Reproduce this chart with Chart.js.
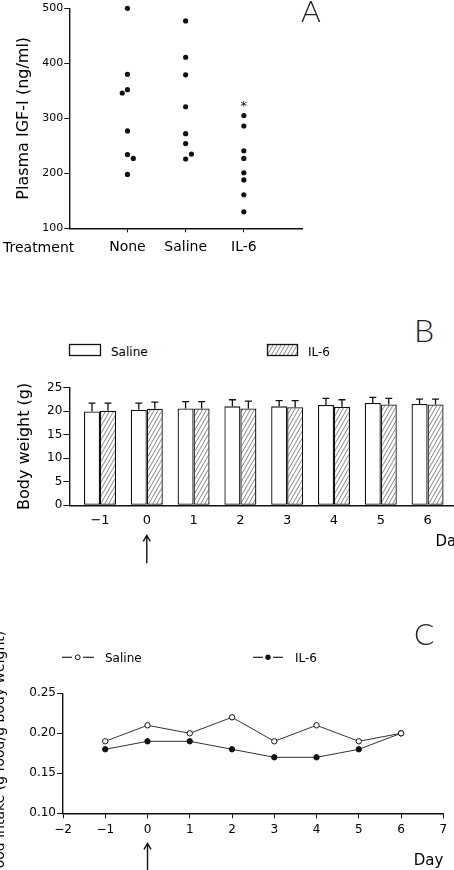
<!DOCTYPE html>
<html>
<head>
<meta charset="utf-8">
<script src="https://cdn.jsdelivr.net/npm/chart.js@4.4.1/dist/chart.umd.min.js"></script>
<style>
  html, body { margin: 0; padding: 0; background: #fff; }
  body { width: 454px; height: 870px; overflow: hidden; position: relative; font-family: "DejaVu Sans", sans-serif; color: #000; }
  canvas { position: absolute; }
  .txt { position: absolute; white-space: nowrap; line-height: 1; }
  .letter { position: absolute; font-family: Lato, "DejaVu Sans", sans-serif; font-weight: 300; line-height: 1; color: #222; }
  svg { position: absolute; }
</style>
</head>
<body>
<canvas id="chartA" width="454" height="265" style="left:0;top:0"></canvas>
<canvas id="chartB" width="500" height="198" style="left:0;top:372px"></canvas>
<canvas id="chartC" width="463" height="250" style="left:-9px;top:620px"></canvas>

<!-- panel letters -->
<div class="letter" style="left:301px;top:-5px;font-size:30px">A</div>
<div class="letter" style="left:414px;top:313.5px;font-size:32px">B</div>
<div class="letter" style="left:414px;top:618px;font-size:30px">C</div>

<div class="txt" style="left:3px;top:239.5px;font-size:14px">Treatment</div>

<!-- legend B -->
<svg width="454" height="24" style="left:0;top:340px">
  <defs>
    <pattern id="hatch" width="4" height="7" patternUnits="userSpaceOnUse">
      <path d="M0,7 L4,0 M-4,7 L0,0 M4,7 L8,0" stroke="#666" stroke-width="0.8"/>
    </pattern>
  </defs>
  <rect x="69.5" y="4.5" width="31" height="11" fill="#fff" stroke="#111" stroke-width="1.3"/>
  <rect x="267.5" y="4.5" width="30" height="11" fill="url(#hatch)" stroke="#111" stroke-width="1.3"/>
</svg>
<div class="txt" style="left:111px;top:346px;font-size:12px">Saline</div>
<div class="txt" style="left:308px;top:346px;font-size:12px">IL-6</div>

<!-- legend C -->
<svg width="454" height="16" style="left:0;top:649px">
  <line x1="62" y1="8.3" x2="72" y2="8.3" stroke="#222" stroke-width="1.2"/>
  <circle cx="77.7" cy="8.3" r="2.4" fill="#fff" stroke="#111" stroke-width="1"/>
  <line x1="83" y1="8.3" x2="94" y2="8.3" stroke="#222" stroke-width="1.2"/>
  <line x1="253" y1="8.3" x2="263" y2="8.3" stroke="#222" stroke-width="1.2"/>
  <circle cx="268" cy="8.3" r="2.7" fill="#111"/>
  <line x1="273" y1="8.3" x2="283" y2="8.3" stroke="#222" stroke-width="1.2"/>
</svg>
<div class="txt" style="left:105px;top:652px;font-size:12px">Saline</div>
<div class="txt" style="left:295px;top:652px;font-size:12px">IL-6</div>

<script>
// ---- Panel A: plasma IGF-I per treatment group ----
const treatments = ['None', 'Saline', 'IL-6'];
const noneIGF = [500, 380, 352, 346, 277, 234, 227, 198];
const noneJitter = [0, 0, 0, -0.09, 0, 0, 0.1, 0];
const salineIGF = [477, 411, 379, 321, 272, 254, 235, 226];
const salineJitter = [0, 0, 0, 0, 0, 0, 0.1, 0];
const il6IGF = [305, 286, 241, 227, 201, 188, 161, 130];
const il6Jitter = [0, 0, 0, 0, 0, 0, 0, 0];
const il6Significance = 328; // where the * sits

// ---- Panel B: body weight ----
const days = [-1, 0, 1, 2, 3, 4, 5, 6];
const salineBW = [19.9, 20.3, 20.55, 21.0, 21.0, 21.3, 21.7, 21.5];
const salineBWErr = [1.8, 1.4, 1.45, 1.4, 1.2, 1.4, 1.2, 1.05];
const il6BW = [20.05, 20.5, 20.55, 20.55, 20.8, 20.9, 21.4, 21.4];
const il6BWErr = [1.65, 1.4, 1.45, 1.55, 1.4, 1.5, 1.3, 1.15];

// ---- Panel C: food intake ----
const salineFood = [0.19, 0.21, 0.20, 0.22, 0.19, 0.21, 0.19, 0.20];
const il6Food = [0.18, 0.19, 0.19, 0.18, 0.17, 0.17, 0.18, 0.20];

Chart.defaults.font.family = '"DejaVu Sans", sans-serif';
Chart.defaults.color = '#000';

const ink = '#111';
const axisBorder = { color: ink, width: 1.4 };
const minus = v => String(v).replace('-', '\u2212');

// hatched fill for the IL-6 bars
function makeHatch() {
  const c = document.createElement('canvas');
  c.width = 4; c.height = 7;
  const g = c.getContext('2d');
  g.fillStyle = '#fff';
  g.fillRect(0, 0, 4, 7);
  g.strokeStyle = '#666';
  g.lineWidth = 0.8;
  g.beginPath();
  g.moveTo(0, 7); g.lineTo(4, 0);
  g.moveTo(-4, 7); g.lineTo(0, 0);
  g.moveTo(4, 7); g.lineTo(8, 0);
  g.stroke();
  return g.createPattern(c, 'repeat');
}

const asteriskPlugin = {
  id: 'asterisk',
  afterDatasetsDraw(chart) {
    const { ctx, scales } = chart;
    const x = scales.x.getPixelForValue(3);
    const y = scales.y.getPixelForValue(il6Significance);
    ctx.save();
    ctx.font = '13px "DejaVu Sans", sans-serif';
    ctx.fillStyle = ink;
    ctx.textAlign = 'center';
    ctx.textBaseline = 'alphabetic';
    ctx.fillText('*', x, y + 7.5);
    ctx.restore();
  }
};

const errorBarPlugin = {
  id: 'errorBars',
  afterDatasetsDraw(chart) {
    const { ctx, scales } = chart;
    [[salineBW, salineBWErr], [il6BW, il6BWErr]].forEach(([vals, errs], di) => {
      const meta = chart.getDatasetMeta(di);
      meta.data.forEach((bar, i) => {
        const top = scales.y.getPixelForValue(vals[i] + errs[i]);
        ctx.save();
        ctx.strokeStyle = ink;
        ctx.lineWidth = 1.3;
        ctx.beginPath();
        ctx.moveTo(bar.x, bar.y);
        ctx.lineTo(bar.x, top);
        ctx.moveTo(bar.x - 3.5, top);
        ctx.lineTo(bar.x + 3.5, top);
        ctx.stroke();
        ctx.restore();
      });
    });
  }
};

// upward arrow under day 0 (injection)
const arrowPlugin = {
  id: 'dayZeroArrow',
  afterDraw(chart) {
    const { ctx, scales, chartArea } = chart;
    const x = scales.x.getPixelForValue(0);
    const tip = chartArea.bottom + 30;
    const tail = chartArea.bottom + 58;
    ctx.save();
    ctx.strokeStyle = ink;
    ctx.lineWidth = 1.4;
    ctx.beginPath();
    ctx.moveTo(x, tail);
    ctx.lineTo(x, tip);
    ctx.moveTo(x - 3.5, tip + 6);
    ctx.lineTo(x, tip);
    ctx.lineTo(x + 3.5, tip + 6);
    ctx.stroke();
    ctx.restore();
  }
};

const jittered = (vals, jit, group) => vals.map((v, i) => ({ x: group + jit[i], y: v }));

// Panel A
new Chart(document.getElementById('chartA'), {
  type: 'scatter',
  data: {
    datasets: [
      { data: jittered(noneIGF, noneJitter, 1) },
      { data: jittered(salineIGF, salineJitter, 2) },
      { data: jittered(il6IGF, il6Jitter, 3) }
    ]
  },
  options: {
    responsive: false,
    animation: false,
    layout: { autoPadding: false, padding: { left: 0, top: 8.3, right: 152, bottom: 0 } },
    plugins: { legend: { display: false }, tooltip: { enabled: false } },
    datasets: { scatter: { clip: false } },
    elements: { point: { radius: 2.6, backgroundColor: '#111', borderWidth: 0 } },
    scales: {
      x: {
        type: 'linear', min: 0, max: 4,
        afterFit: s => { s.height = 36.7; },
        afterBuildTicks: s => { s.ticks = treatments.map((t, i) => ({ value: i + 1 })); },
        ticks: { callback: v => treatments[Math.round(v) - 1], font: { size: 14 }, padding: 7 },
        grid: { drawOnChartArea: false, tickLength: 4, color: ink },
        border: axisBorder
      },
      y: {
        min: 100, max: 500,
        afterFit: s => { s.width = 69.3; },
        ticks: { stepSize: 100, font: { size: 11 }, padding: 1 },
        grid: { drawOnChartArea: false, tickLength: 5, color: ink },
        border: axisBorder,
        title: { display: true, text: 'Plasma IGF-I (ng/ml)', font: { size: 16 }, padding: { top: 14, bottom: 0 } }
      }
    }
  },
  plugins: [asteriskPlugin]
});

// Panel B
new Chart(document.getElementById('chartB'), {
  type: 'bar',
  data: {
    datasets: [
      { label: 'Saline', data: days.map((d, i) => ({ x: d, y: salineBW[i] })), backgroundColor: '#fff' },
      { label: 'IL-6', data: days.map((d, i) => ({ x: d, y: il6BW[i] })), backgroundColor: makeHatch() }
    ]
  },
  options: {
    responsive: false,
    animation: false,
    layout: { autoPadding: false, padding: { left: 0, top: 15.5, right: 35, bottom: 18.5 } },
    plugins: { legend: { display: false }, tooltip: { enabled: false } },
    datasets: {
      bar: { categoryPercentage: 0.684, barPercentage: 1, borderColor: ink, borderWidth: 1.3, borderSkipped: false }
    },
    scales: {
      x: {
        type: 'linear', min: -1.656, max: 6.8, offset: false,
        afterFit: s => { s.height = 46.2; },
        ticks: { stepSize: 1, includeBounds: false, font: { size: 13 }, padding: 7.4, callback: v => minus(v) },
        grid: { display: false, drawTicks: false, tickLength: 0, offset: false },
        border: axisBorder,
        title: { display: true, text: 'Day', align: 'end', font: { size: 15 }, padding: { top: 0, bottom: 0 } }
      },
      y: {
        min: 0, max: 25,
        afterFit: s => { s.width = 69.3; },
        ticks: { stepSize: 5, font: { size: 12 }, padding: 1 },
        grid: { drawOnChartArea: false, tickLength: 6, color: ink },
        border: axisBorder,
        title: { display: true, text: 'Body weight (g)', font: { size: 16 }, padding: { top: 15, bottom: 0 } }
      }
    }
  },
  plugins: [errorBarPlugin, arrowPlugin]
});

// Panel C
new Chart(document.getElementById('chartC'), {
  type: 'line',
  data: {
    datasets: [
      {
        label: 'Saline', data: days.map((d, i) => ({ x: d, y: salineFood[i] })),
        borderColor: '#333', pointBackgroundColor: '#fff', pointBorderColor: '#111'
      },
      {
        label: 'IL-6', data: days.map((d, i) => ({ x: d, y: il6Food[i] })),
        borderColor: '#333', pointBackgroundColor: '#111', pointBorderColor: '#111'
      }
    ]
  },
  options: {
    responsive: false,
    animation: false,
    layout: { autoPadding: false, padding: { left: 0, top: 73.3, right: 10.7, bottom: 0 } },
    plugins: { legend: { display: false }, tooltip: { enabled: false } },
    datasets: {
      line: { borderWidth: 1, tension: 0, clip: false, pointRadius: 2.7, pointBorderWidth: 1 }
    },
    scales: {
      x: {
        type: 'linear', min: -2, max: 7,
        afterFit: s => { s.height = 56.7; },
        ticks: { stepSize: 1, font: { size: 12 }, padding: 4.5, callback: v => minus(v) },
        grid: { drawOnChartArea: false, tickLength: 5, color: ink },
        border: axisBorder,
        title: { display: true, text: 'Day', align: 'end', font: { size: 15 }, padding: { top: 0, bottom: 0 } }
      },
      y: {
        min: 0.10, max: 0.25,
        afterFit: s => { s.width = 72; },
        ticks: { stepSize: 0.05, font: { size: 12 }, padding: 1, callback: v => v.toFixed(2) },
        grid: { drawOnChartArea: false, tickLength: 6, color: ink },
        border: axisBorder,
        title: { display: true, text: 'Food intake (g food/g body weight)', font: { size: 14 }, padding: { top: 1, bottom: 0 } }
      }
    }
  },
  plugins: [arrowPlugin]
});
</script>
</body>
</html>
